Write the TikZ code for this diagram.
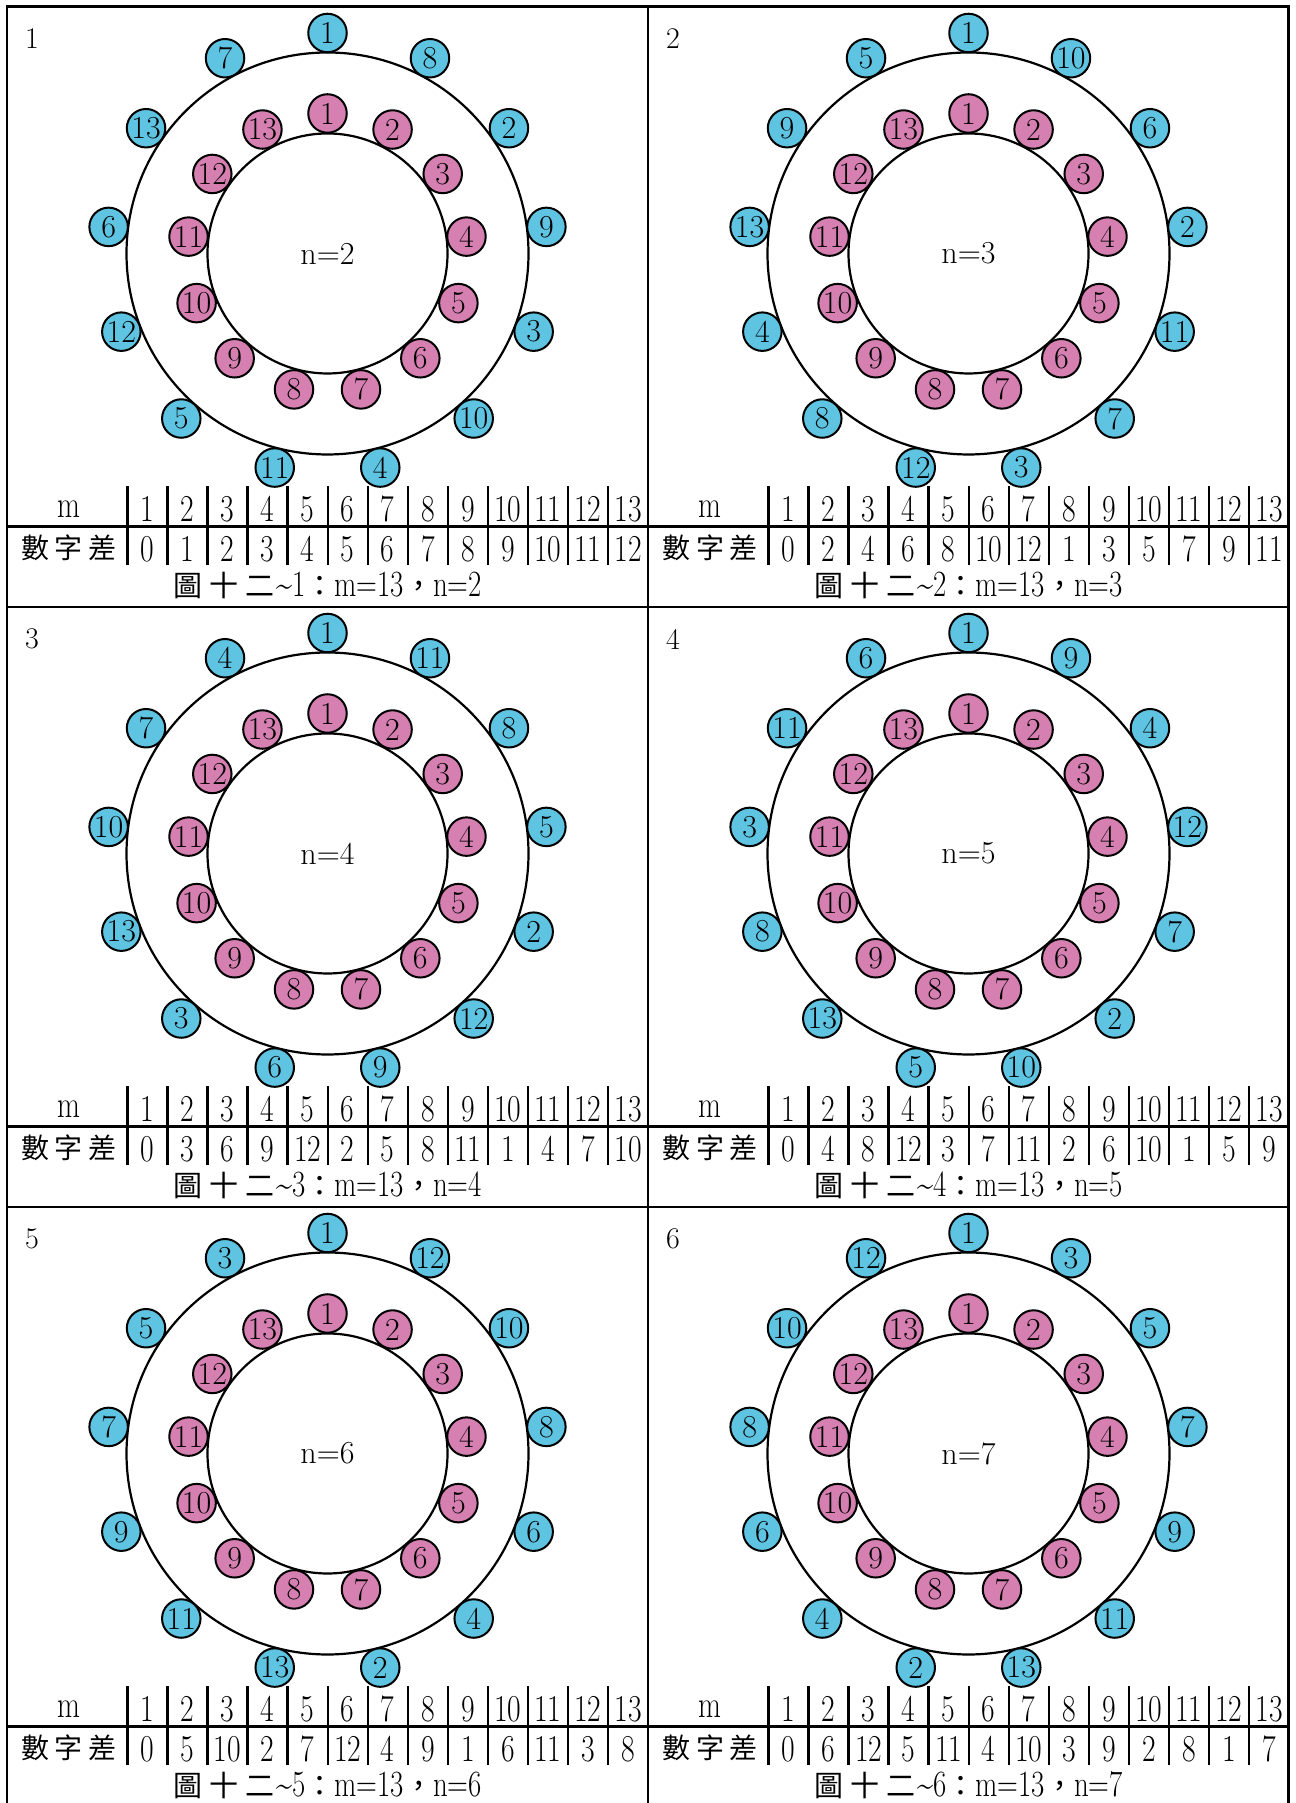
\documentclass[tikz,border=0pt]{standalone}
\usepackage{fontspec}
\usepackage{graphicx}
\newfontfamily\cjk{Noto Sans CJK TC}
\definecolor{cblue}{RGB}{95,196,226}
\definecolor{cpink}{RGB}{214,128,178}
\newcommand{\nar}[2][38]{\scalebox{0.78}[1]{\fontsize{#1}{#1}\selectfont #2}}
\begin{document}
\begin{tikzpicture}[x=1pt,y=1pt,
  ring/.style={draw=black,line width=2.2pt},
  frame/.style={draw=black,line width=2.6pt},
  rule/.style={draw=black,line width=2.4pt},
  dot/.style={circle,draw=black,line width=2pt,minimum size=38.5pt,inner sep=0pt,font=\fontsize{32}{32}\selectfont},
  bluedot/.style={dot,fill=cblue},
  pinkdot/.style={dot,fill=cpink},
  celltext/.style={inner sep=0pt},
  cjklabel/.style={inner sep=0pt,font=\cjk\fontsize{28}{28}\selectfont},
  centertext/.style={inner sep=0pt,font=\fontsize{32}{32}\selectfont},
  panelnum/.style={inner sep=0pt,font=\fontsize{30}{30}\selectfont},
  captiontext/.style={inner sep=0pt}
]
\useasboundingbox (0,0) rectangle (1295,1803);
\fill[white] (0,0) rectangle (1295,1803);
\foreach \i/\nn/\px/\py in {1/2/7/7, 2/3/648/7, 3/4/7/607, 4/5/648/607, 5/6/7/1207, 6/7/648/1207}{
  \pgfmathsetmacro\X{\px}
  \pgfmathsetmacro\Y{1803-\py}
  \coordinate (cen\i) at (\X+320.5,\Y-246.5);
  \node[panelnum] (num\i) at (\X+25,\Y-32) {\i};
  \draw[ring] (cen\i) circle[radius=201pt];
  \draw[ring] (cen\i) circle[radius=120pt];
  \node[centertext] (txt\i) at (cen\i) {n=\nn};
  \foreach \L in {1,...,13}{
    \pgfmathtruncatemacro\p{mod((\L-1)*\nn,13)}
    \pgfmathsetmacro\angb{90-\p*360/13}
    \pgfmathsetmacro\angp{90-(\L-1)*360/13}
    \node[bluedot] (b\i-\L) at ([shift={(\angb:220.5pt)}]cen\i) {\L};
    \node[pinkdot] (p\i-\L) at ([shift={(\angp:140pt)}]cen\i) {\L};
  }
  % table
  \draw[rule] (\X,\Y-519.5) -- (\X+641,\Y-519.5);
  \foreach \k in {0,...,12}{
    \draw[rule] (\X+120.5+\k*40.04,\Y-479.5) -- (\X+120.5+\k*40.04,\Y-558.5);
  }
  \node[celltext] (mlab\i) at (\X+62,\Y-502) {\nar{m}};
  \node[cjklabel] (dlab\i) at (\X+62,\Y-541) {數\hspace{6pt}字\hspace{6pt}差};
  \foreach \k in {1,...,13}{
    \pgfmathtruncatemacro\d{mod((\k-1)*(\nn-1),13)}
    \node[celltext] (m\i-\k) at (\X+120.5+\k*40.04-20.02,\Y-502) {\nar{\k}};
    \node[celltext] (d\i-\k) at (\X+120.5+\k*40.04-20.02,\Y-542) {\nar{\d}};
  }
  \node[captiontext] (cap\i) at (\X+320.5,\Y-578) {{\cjk\fontsize{29}{29}\selectfont 圖\hspace{7pt}十\hspace{7pt}二}\hspace{2pt}\nar[37]{\textasciitilde\i}{\cjk\fontsize{29}{29}\selectfont ：}\nar[37]{m=13}{\cjk\fontsize{29}{29}\selectfont ，}\nar[37]{n=\nn}};
}
% frame and dividers
\draw[frame] (7,-5) -- (7,1796.3) -- (1288.5,1796.3) -- (1288.5,-5);
\draw[frame] (648,-5) -- (648,1796.3);
\draw[frame] (7,1803-607) -- (1288.5,1803-607);
\draw[frame] (7,1803-1207) -- (1288.5,1803-1207);
\end{tikzpicture}
\end{document}
